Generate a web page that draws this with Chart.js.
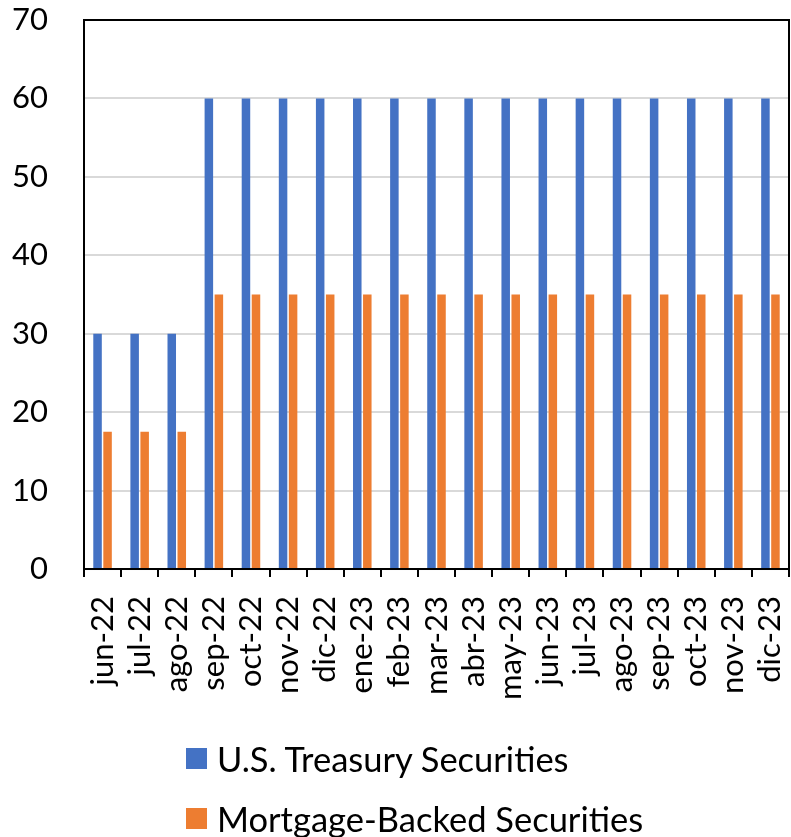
<!DOCTYPE html>
<html>
<head>
<meta charset="utf-8">
<script src="https://cdn.jsdelivr.net/npm/chart.js@4/dist/chart.umd.min.js"></script>
<style>
  html, body { margin: 0; padding: 0; background: #fff; }
  #wrap { position: relative; width: 791px; height: 837px; }
  #legend { position: absolute; left: 186px; top: 0; font-family: Lato, sans-serif; font-size: 34.5px; color: #000; }
  .item { position: absolute; left: 0; display: flex; align-items: center; white-space: nowrap; }
  .sw { width: 21px; height: 21px; margin-right: 10px; flex: none; }
</style>
</head>
<body>
<div id="wrap">
  <canvas id="c" width="791" height="837"></canvas>
  <div id="legend"></div>
</div>
<script>
const categories = ['jun-22','jul-22','ago-22','sep-22','oct-22','nov-22','dic-22','ene-23','feb-23','mar-23','abr-23','may-23','jun-23','jul-23','ago-23','sep-23','oct-23','nov-23','dic-23'];
const treasury = [30,30,30,60,60,60,60,60,60,60,60,60,60,60,60,60,60,60,60];
const mbs = [17.5,17.5,17.5,35,35,35,35,35,35,35,35,35,35,35,35,35,35,35,35];
const seriesNames = ['U.S. Treasury Securities','Mortgage-Backed Securities'];
const yTicks = [0,10,20,30,40,50,60,70];
const colors = ['#4472C4','#ED7D31'];

const boxPlugin = {
  id: 'box',
  afterDraw(chart) {
    const a = chart.chartArea, ctx = chart.ctx;
    ctx.save();
    ctx.strokeStyle = '#000';
    ctx.lineWidth = 2;
    ctx.strokeRect(a.left, a.top, a.right - a.left, a.bottom - a.top);
    ctx.restore();
  }
};

const FONT = 'Lato, sans-serif';
const chart = new Chart(document.getElementById('c'), {
  type: 'bar',
  data: {
    labels: categories,
    datasets: [
      { label: seriesNames[0], data: treasury, backgroundColor: colors[0], categoryPercentage: 0.54, barPercentage: 0.85 },
      { label: seriesNames[1], data: mbs, backgroundColor: colors[1], categoryPercentage: 0.54, barPercentage: 0.85 }
    ]
  },
  options: {
    responsive: false,
    animation: false,
    layout: { padding: { left: 12, top: 20, right: 2, bottom: 118 } },
    plugins: { legend: { display: false }, tooltip: { enabled: false } },
    scales: {
      x: {
        afterFit(s) { s.paddingLeft = 0; s.paddingRight = 0; },
        grid: { display: true, drawOnChartArea: false, drawTicks: true, tickLength: 8, color: '#000', lineWidth: 2, offset: true },
        border: { display: true, color: '#000', width: 2 },
        ticks: { autoSkip: false, maxRotation: 90, minRotation: 90, padding: 19, color: '#000', font: { family: FONT, size: 31 } }
      },
      y: {
        min: 0, max: 70,
        afterFit(s) { s.paddingTop = 0; s.paddingBottom = 0; s.width = 72; },
        afterBuildTicks(scale) { scale.ticks = yTicks.map(v => ({ value: v })); },
        grid: { color: '#D9D9D9', lineWidth: 2, drawTicks: false },
        border: { display: true, color: '#000', width: 2 },
        ticks: { padding: 36, color: '#000', font: { family: FONT, size: 31 } }
      }
    }
  },
  plugins: [boxPlugin]
});

const legend = document.getElementById('legend');
const tops = [758, 818];
seriesNames.forEach((n, i) => {
  const d = document.createElement('div');
  d.className = 'item';
  d.style.top = (tops[i] - 20) + 'px';
  d.style.height = '40px';
  d.innerHTML = '<span class="sw" style="background:' + colors[i] + '"></span><span>' + n + '</span>';
  legend.appendChild(d);
});
</script>
</body>
</html>
